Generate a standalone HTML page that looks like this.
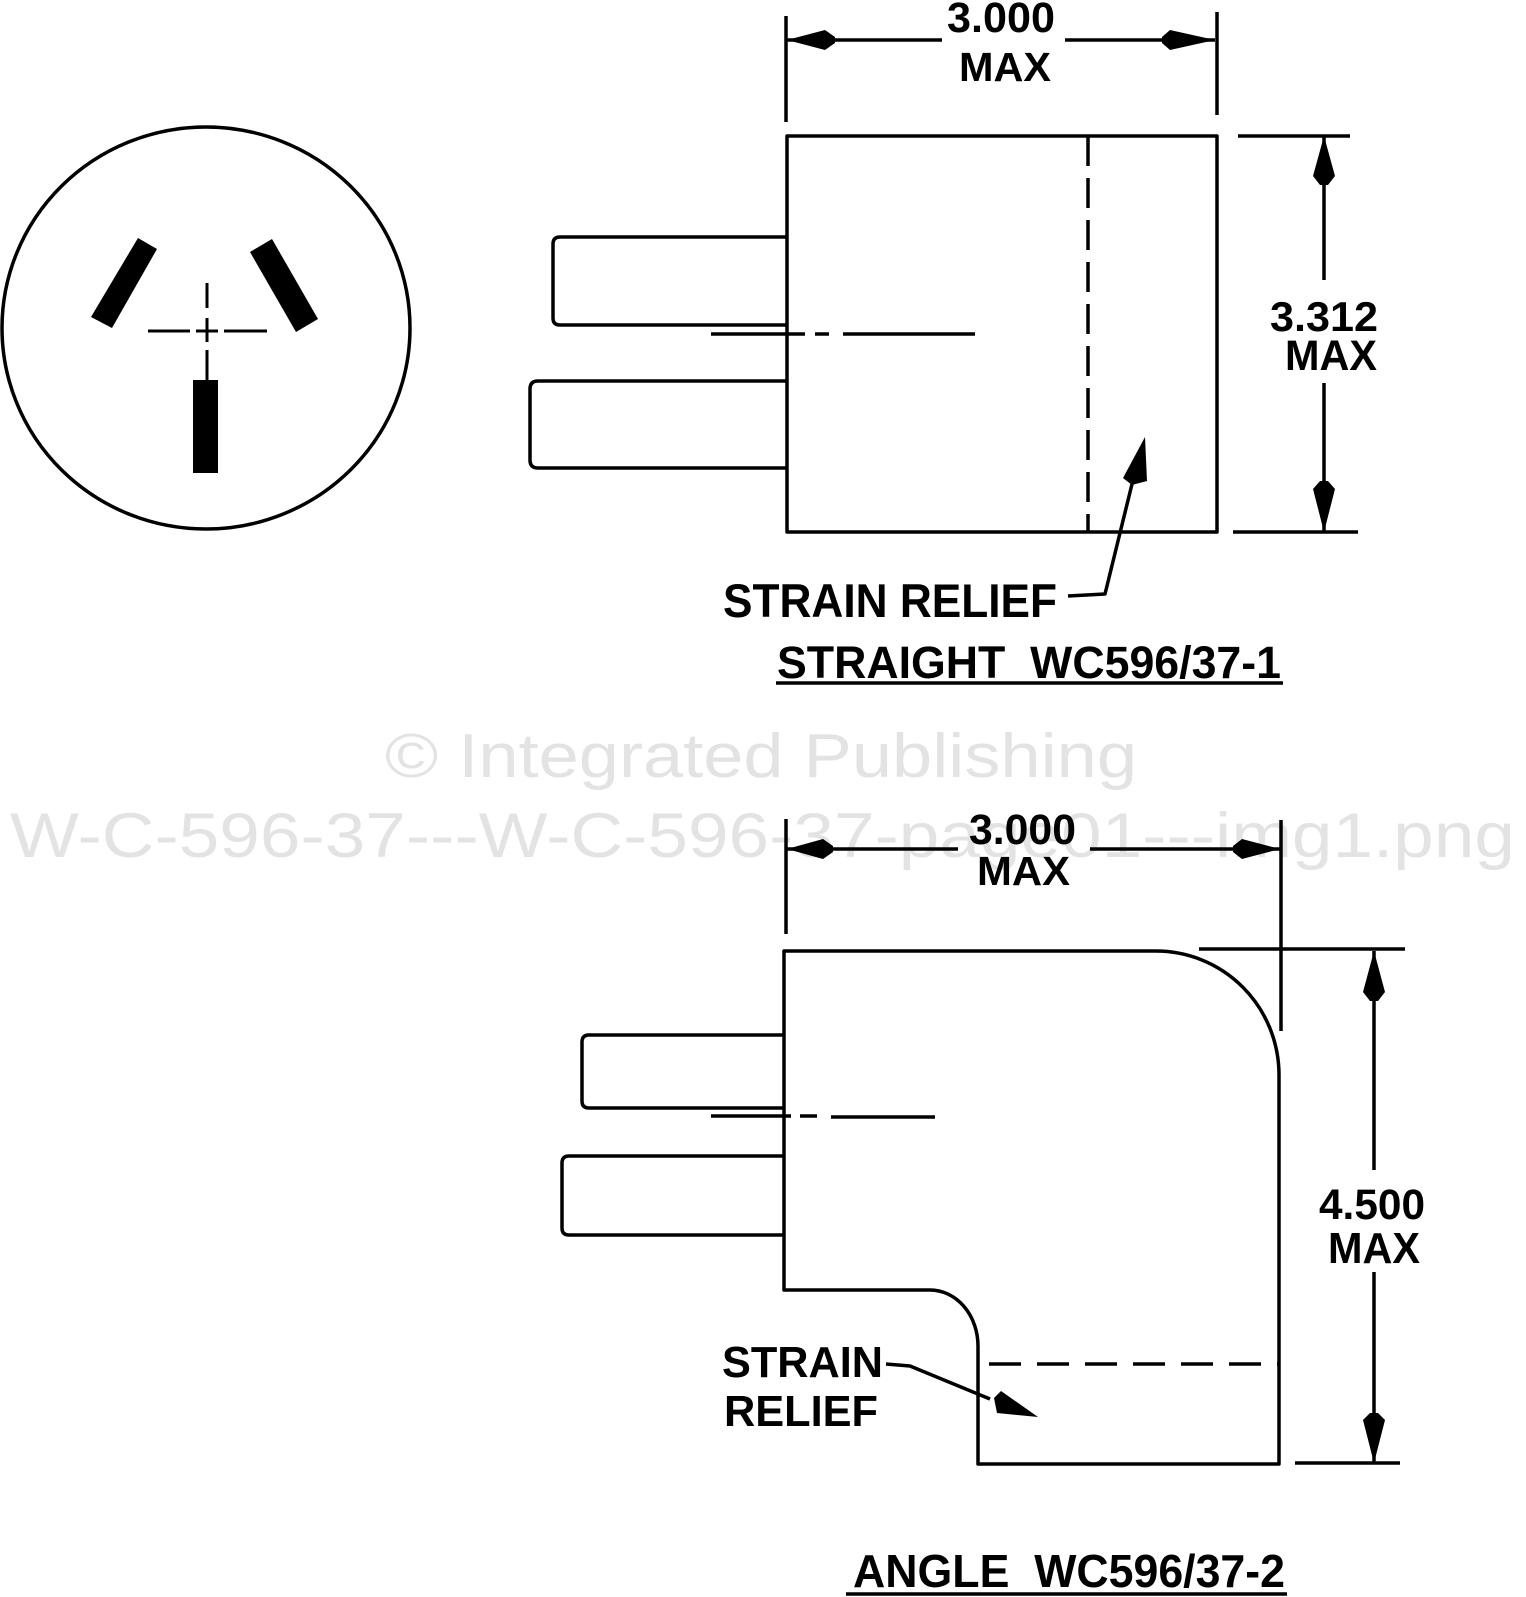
<!DOCTYPE html>
<html>
<head>
<meta charset="utf-8">
<style>
html,body{margin:0;padding:0;background:#fff;}
svg{display:block;}
.t{font-family:"Liberation Sans",Arial,Helvetica,sans-serif;font-weight:bold;fill:#000;}
.w{font-family:"Liberation Sans",Arial,Helvetica,sans-serif;fill:#e3e3e3;}
</style>
</head>
<body>
<svg width="1526" height="1597" viewBox="0 0 1526 1597" xmlns="http://www.w3.org/2000/svg">
<rect width="1526" height="1597" fill="#fff"/>

<!-- watermark -->
<text class="w" x="385" y="777" font-size="62" textLength="752" lengthAdjust="spacingAndGlyphs">© Integrated Publishing</text>
<text class="w" x="10" y="857" font-size="63" textLength="1505" lengthAdjust="spacingAndGlyphs">W-C-596-37---W-C-596-37-page01---img1.png</text>

<g fill="none" stroke="#000" stroke-width="3.5" stroke-linejoin="round">
  <!-- ===== round face ===== -->
  <ellipse cx="206" cy="328" rx="204" ry="201"/>
  <g stroke-width="3">
    <line x1="207" y1="283" x2="207" y2="308"/>
    <line x1="207" y1="318" x2="207" y2="342"/>
    <line x1="207" y1="350" x2="207" y2="380"/>
    <line x1="148" y1="331" x2="190" y2="331"/>
    <line x1="196" y1="331" x2="218" y2="331"/>
    <line x1="224" y1="331" x2="267" y2="331"/>
  </g>

  <!-- ===== STRAIGHT ===== -->
  <line x1="786" y1="16" x2="786" y2="122"/>
  <line x1="1217" y1="12" x2="1217" y2="115"/>
  <line x1="787" y1="40" x2="942" y2="40"/>
  <line x1="1065" y1="40" x2="1215" y2="40"/>
  <rect x="787" y="136" width="430" height="396"/>
  <line x1="1088" y1="136" x2="1088" y2="532" stroke-dasharray="30 12"/>
  <path d="M787 237 L560 237 Q553 237 553 244 L553 318 Q553 325 560 325 L787 325"/>
  <path d="M787 381 L538 381 Q530 381 530 389 L530 460 Q530 468 538 468 L787 468"/>
  <line x1="711" y1="334" x2="805" y2="334"/>
  <line x1="815" y1="334" x2="829" y2="334"/>
  <line x1="843" y1="334" x2="975" y2="334"/>
  <line x1="1238" y1="136" x2="1350" y2="136"/>
  <line x1="1233" y1="532" x2="1358" y2="532"/>
  <line x1="1324" y1="136" x2="1324" y2="280"/>
  <line x1="1324" y1="383" x2="1324" y2="532"/>
  <polyline points="1068,596 1105,594 1133,480"/>

  <!-- ===== ANGLE ===== -->
  <line x1="786" y1="819" x2="786" y2="934"/>
  <line x1="1281" y1="820" x2="1281" y2="1031"/>
  <line x1="787" y1="849" x2="958" y2="849"/>
  <line x1="1090" y1="849" x2="1280" y2="849"/>
  <path d="M784 951 L784 1290 L930 1290 A48 56 0 0 1 978 1346 L978 1464 L1279 1464 L1279 1075 A123 124 0 0 0 1156 951 Z"/>
  <line x1="989" y1="1364" x2="1278" y2="1364" stroke-dasharray="32 16"/>
  <path d="M784 1035 L589 1035 Q582 1035 582 1042 L582 1101 Q582 1108 589 1108 L784 1108"/>
  <path d="M784 1156 L569 1156 Q562 1156 562 1163 L562 1228 Q562 1235 569 1235 L784 1235"/>
  <line x1="711" y1="1116" x2="791" y2="1116"/>
  <line x1="800" y1="1116" x2="817" y2="1116"/>
  <line x1="831" y1="1117" x2="935" y2="1117"/>
  <line x1="1199" y1="949" x2="1405" y2="949"/>
  <line x1="1295" y1="1463" x2="1400" y2="1463"/>
  <line x1="1374" y1="951" x2="1374" y2="1170"/>
  <line x1="1374" y1="1272" x2="1374" y2="1463"/>
  <polyline points="886,1364 910,1366 990,1399"/>

  <line x1="776" y1="683" x2="1283" y2="683"/>
  <line x1="846" y1="1594" x2="1287" y2="1594"/>
</g>

<g fill="#000" stroke="none">
  <polygon points="138,238 157,249 112,328 91,317"/>
  <polygon points="250,252 272,239 318,319 296,332"/>
  <rect x="193" y="380" width="25" height="93"/>

  <polygon points="787,40 825,30 835,37 835,43 825,50"/>
  <polygon points="1215,40 1170,30 1162,37 1162,43 1170,50"/>
  <polygon points="1324,136 1313,176 1320,185 1328,185 1335,176"/>
  <polygon points="1324,532 1313,489 1320,481 1328,481 1335,489"/>
  <polygon points="1145,437 1123,478 1132,485 1147,481"/>

  <polygon points="787,849 823,839 833,846 833,852 823,859"/>
  <polygon points="1280,849 1242,839 1233,846 1233,852 1242,859"/>
  <polygon points="1374,951 1363,992 1370,1001 1378,1001 1385,992"/>
  <polygon points="1374,1463 1363,1420 1370,1413 1378,1413 1385,1420"/>
  <polygon points="1038,1417 1001,1391 994,1398 997,1413"/>
</g>

<text class="t" x="947" y="32" font-size="43" textLength="108" lengthAdjust="spacingAndGlyphs">3.000</text>
<text class="t" x="959" y="81" font-size="41" textLength="92" lengthAdjust="spacingAndGlyphs">MAX</text>

<text class="t" x="1270" y="331" font-size="42" textLength="108" lengthAdjust="spacingAndGlyphs">3.312</text>
<text class="t" x="1285" y="370" font-size="43" textLength="92" lengthAdjust="spacingAndGlyphs">MAX</text>

<text class="t" x="723" y="617" font-size="47" textLength="334" lengthAdjust="spacingAndGlyphs">STRAIN RELIEF</text>
<text class="t" x="777" y="678" font-size="45" textLength="504" lengthAdjust="spacingAndGlyphs">STRAIGHT&#160;&#160;WC596/37-1</text>

<text class="t" x="969" y="844" font-size="43" textLength="107" lengthAdjust="spacingAndGlyphs">3.000</text>
<text class="t" x="977" y="885" font-size="41" textLength="93" lengthAdjust="spacingAndGlyphs">MAX</text>

<text class="t" x="1319" y="1219" font-size="43" textLength="106" lengthAdjust="spacingAndGlyphs">4.500</text>
<text class="t" x="1328" y="1263" font-size="44" textLength="92" lengthAdjust="spacingAndGlyphs">MAX</text>

<text class="t" x="722" y="1377" font-size="44" textLength="161" lengthAdjust="spacingAndGlyphs">STRAIN</text>
<text class="t" x="724" y="1426" font-size="44" textLength="154" lengthAdjust="spacingAndGlyphs">RELIEF</text>

<text class="t" x="853" y="1587" font-size="46" textLength="432" lengthAdjust="spacingAndGlyphs">ANGLE&#160;&#160;WC596/37-2</text>
</svg>
</body>
</html>
